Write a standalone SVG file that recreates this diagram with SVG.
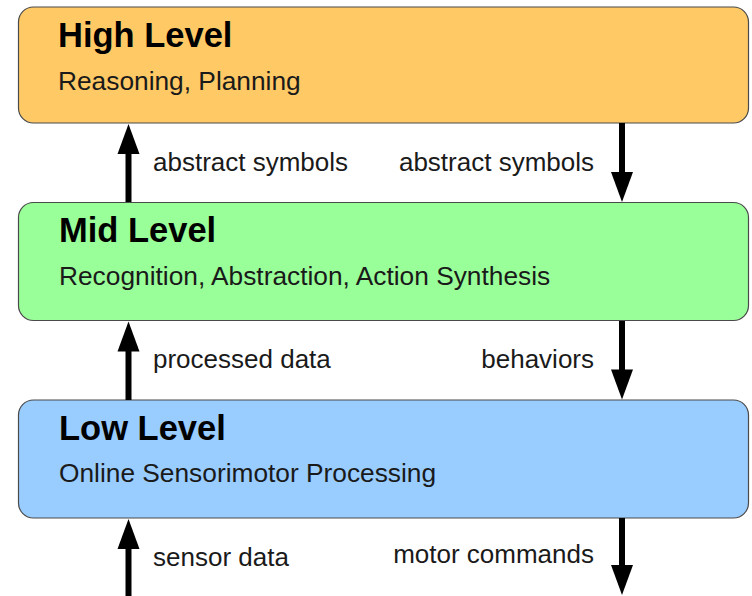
<svg xmlns="http://www.w3.org/2000/svg" width="752" height="596" viewBox="0 0 752 596">
<style>
.box{stroke:#4a4a4a;stroke-width:1.2}
.title{font-family:"Liberation Sans",Arial,sans-serif;font-weight:bold;font-size:34.5px;fill:#000}
.sub{font-family:"Liberation Sans",Arial,sans-serif;font-size:26.3px;fill:#1a1a1a}
.lbl{font-family:"Liberation Sans",Arial,sans-serif;font-size:26px;fill:#1a1a1a}
.end{text-anchor:end}
.shaft{stroke:#000;stroke-width:6;fill:none}
.head{fill:#000}
</style>
<rect width="752" height="596" fill="#fff"/>
<g id="high">
<rect class="box" x="18.5" y="7" width="730" height="116" rx="15" fill="#FFC966"/>
<text class="title" x="58" y="47">High Level</text>
<text class="sub" x="58" y="90">Reasoning, Planning</text>
</g>
<g id="mid">
<rect class="box" x="18.5" y="202.5" width="730" height="118" rx="15" fill="#99FF99"/>
<text class="title" x="59" y="242">Mid Level</text>
<text class="sub" x="59" y="285">Recognition, Abstraction, Action Synthesis</text>
</g>
<g id="low">
<rect class="box" x="18.5" y="400" width="730" height="118" rx="15" fill="#99CCFF"/>
<text class="title" x="59" y="440">Low Level</text>
<text class="sub" x="59" y="482">Online Sensorimotor Processing</text>
</g>
<g id="connectors">
<line class="shaft" x1="128.5" y1="202" x2="128.5" y2="150"/>
<polygon class="head" points="128.5,124 117.5,154 139.5,154"/>
<line class="shaft" x1="622" y1="123" x2="622" y2="175"/>
<polygon class="head" points="622,202 611,172 633,172"/>
<line class="shaft" x1="128.5" y1="400" x2="128.5" y2="348"/>
<polygon class="head" points="128.5,321.5 117.5,351.5 139.5,351.5"/>
<line class="shaft" x1="622" y1="321" x2="622" y2="373"/>
<polygon class="head" points="622,399.5 611,369.5 633,369.5"/>
<line class="shaft" x1="128.5" y1="596" x2="128.5" y2="546"/>
<polygon class="head" points="128.5,519 117.5,549 139.5,549"/>
<line class="shaft" x1="622" y1="518" x2="622" y2="570"/>
<polygon class="head" points="622,595 611,565 633,565"/>
</g>
<g id="labels">
<text class="lbl" x="153" y="171">abstract symbols</text>
<text class="lbl end" x="594" y="171">abstract symbols</text>
<text class="lbl" x="153" y="368">processed data</text>
<text class="lbl end" x="594" y="368">behaviors</text>
<text class="lbl" x="153" y="566">sensor data</text>
<text class="lbl end" x="594" y="563">motor commands</text>
</g>
</svg>
